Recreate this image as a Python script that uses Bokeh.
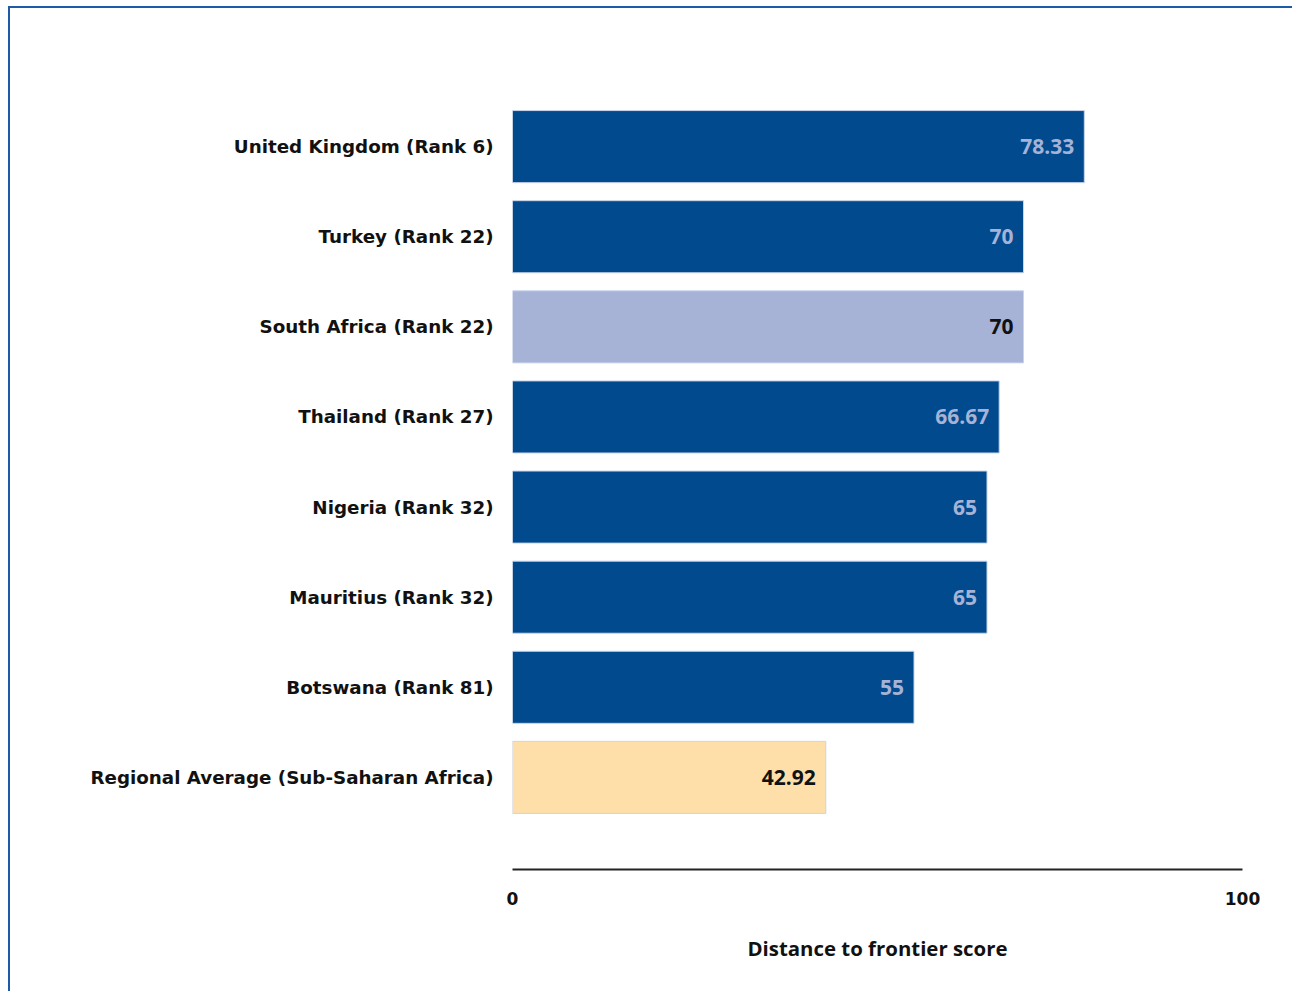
from bokeh.plotting import figure
from bokeh.models import ColumnDataSource, FixedTicker, Range1d
from bokeh.core.properties import value
from bokeh.embed import file_html
from bokeh.resources import INLINE

categories = [
    "United Kingdom (Rank 6)",
    "Turkey (Rank 22)",
    "South Africa (Rank 22)",
    "Thailand (Rank 27)",
    "Nigeria (Rank 32)",
    "Mauritius (Rank 32)",
    "Botswana (Rank 81)",
    "Regional Average (Sub-Saharan Africa)",
]
scores = [78.33, 70, 70, 66.67, 65, 65, 55, 42.92]
score_labels = ["78.33", "70", "70", "66.67", "65", "65", "55", "42.92"]
bar_colors = ["#004A8D", "#004A8D", "#A6B3D6", "#004A8D", "#004A8D", "#004A8D", "#004A8D", "#FEDFA9"]
label_colors = ["#A6B3D6", "#A6B3D6", "#111111", "#A6B3D6", "#A6B3D6", "#A6B3D6", "#A6B3D6", "#111111"]
x_ticks = [0, 100]

n = len(categories)
ypos = [n - i for i in range(n)]

src = ColumnDataSource(dict(y=ypos, score=scores, lab=score_labels,
                            fill=bar_colors, lcol=label_colors, cat=categories))

p = figure(width=1284, height=985, output_backend="svg", toolbar_location=None,
           x_range=Range1d(0, 100), y_range=Range1d(-0.022, 9),
           min_border_left=502, min_border_right=52, min_border_top=48, min_border_bottom=124,
           background_fill_color="white", border_fill_color="white")
p.styles = {"border-left": "2px solid #1F5AA6", "border-top": "2px solid #1F5AA6",
            "margin-left": "8px", "margin-top": "6px"}
p.outline_line_color = None
p.grid.grid_line_color = None

p.hbar(y="y", left=0, right="score", height=0.8, fill_color="fill",
       line_color="#C9D4EA", line_width=1, source=src)
p.text(x="score", y="y", text="lab", text_color="lcol", text_align="right",
       text_baseline="middle", x_offset=-10, text_font=value("Open Sans"),
       text_font_size="21px", text_font_style="bold", source=src)

ya = p.yaxis[0]
ya.ticker = FixedTicker(ticks=ypos)
ya.major_label_overrides = {y: c for y, c in zip(ypos, categories)}
ya.axis_line_color = None
ya.major_tick_line_color = None
ya.minor_tick_line_color = None
ya.major_label_standoff = 13
ya.major_label_text_font = "DejaVu Sans"
ya.major_label_text_font_size = "18.3px"
ya.major_label_text_font_style = "bold"
ya.major_label_text_color = "#111111"

xa = p.xaxis[0]
xa.ticker = FixedTicker(ticks=x_ticks)
xa.axis_line_color = "#222222"
xa.axis_line_width = 2
xa.major_tick_line_color = None
xa.minor_tick_line_color = None
xa.major_label_standoff = 16
xa.major_label_text_font = "DejaVu Sans"
xa.major_label_text_font_size = "17px"
xa.major_label_text_font_style = "bold"
xa.major_label_text_color = "#111111"
xa.axis_label = "Distance to frontier score"
xa.axis_label_standoff = 26
xa.axis_label_text_font = "Open Sans"
xa.axis_label_text_font_size = "20.4px"
xa.axis_label_text_font_style = "bold"
xa.axis_label_text_color = "#111111"

open("out.html", "w").write(file_html(p, INLINE))
